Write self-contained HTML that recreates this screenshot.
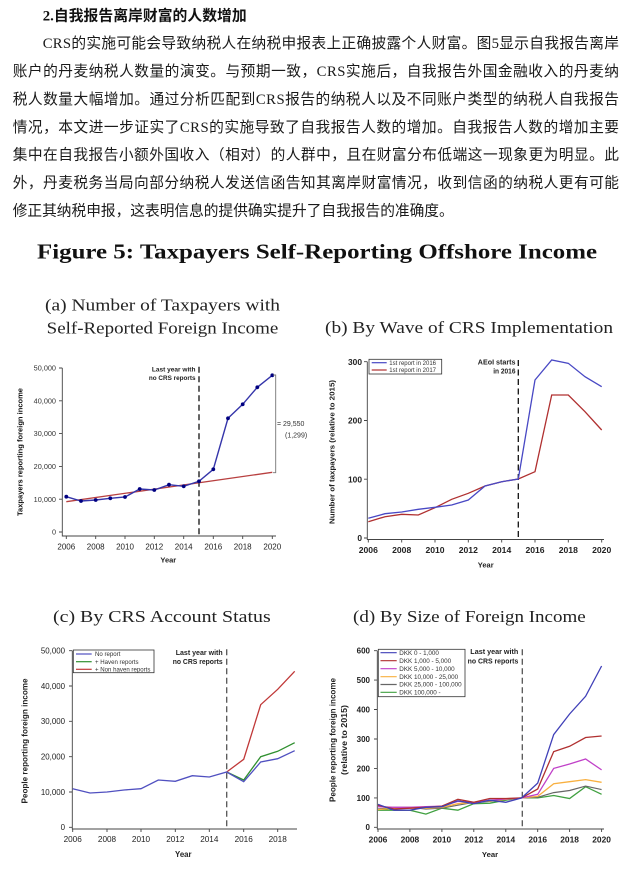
<!DOCTYPE html>
<html>
<head>
<meta charset="utf-8">
<style>
  html,body{margin:0;padding:0;background:#fff;}
  svg{display:block;}
  .cn{font-family:"Liberation Serif","Noto Sans CJK SC",sans-serif;font-size:14.7px;fill:#1a1a1a;}
  .cnh{font-family:"Liberation Serif","Noto Sans CJK SC",sans-serif;font-size:14.8px;font-weight:bold;fill:#111;}
  .ttl{font-family:"Liberation Serif",serif;font-weight:bold;font-size:21px;fill:#111;}
  .sub{font-family:"Liberation Serif",serif;font-size:17px;fill:#222;}
  .s{font-family:"Liberation Sans",sans-serif;}
  .ax{stroke:#444;stroke-width:0.9;fill:none;}
</style>
</head>
<body>
<svg width="630" height="871" viewBox="0 0 630 871" xmlns="http://www.w3.org/2000/svg">
<rect width="630" height="871" fill="#fff"/>

<!-- Chinese text -->
<text class="cnh" x="42.7" y="20.7" textLength="204" lengthAdjust="spacing">2.自我报告离岸财富的人数增加</text>
<text class="cn" x="42.7" y="47.9" textLength="576.3" lengthAdjust="spacing">CRS的实施可能会导致纳税人在纳税申报表上正确披露个人财富。图5显示自我报告离岸</text>
<text class="cn" x="12.7" y="75.85" textLength="606.3" lengthAdjust="spacing">账户的丹麦纳税人数量的演变。与预期一致，CRS实施后，自我报告外国金融收入的丹麦纳</text>
<text class="cn" x="12.7" y="103.8" textLength="606.3" lengthAdjust="spacing">税人数量大幅增加。通过分析匹配到CRS报告的纳税人以及不同账户类型的纳税人自我报告</text>
<text class="cn" x="12.7" y="131.75" textLength="606.3" lengthAdjust="spacing">情况，本文进一步证实了CRS的实施导致了自我报告人数的增加。自我报告人数的增加主要</text>
<text class="cn" x="12.7" y="159.7" textLength="606.3" lengthAdjust="spacing">集中在自我报告小额外国收入（相对）的人群中，且在财富分布低端这一现象更为明显。此</text>
<text class="cn" x="12.7" y="187.65" textLength="606.3" lengthAdjust="spacing">外，丹麦税务当局向部分纳税人发送信函告知其离岸财富情况，收到信函的纳税人更有可能</text>
<text class="cn" x="12.7" y="215.6" textLength="441" lengthAdjust="spacing">修正其纳税申报，这表明信息的提供确实提升了自我报告的准确度。</text>

<!-- Figure title -->
<text class="ttl" x="37" y="258.7" textLength="560" lengthAdjust="spacingAndGlyphs">Figure 5: Taxpayers Self-Reporting Offshore Income</text>

<!-- Subtitles -->
<text class="sub" x="45" y="310.5" textLength="235" lengthAdjust="spacingAndGlyphs">(a) Number of Taxpayers with</text>
<text class="sub" x="46.7" y="333.5" textLength="231.6" lengthAdjust="spacingAndGlyphs">Self-Reported Foreign Income</text>
<text class="sub" x="325" y="333" textLength="288" lengthAdjust="spacingAndGlyphs">(b) By Wave of CRS Implementation</text>
<text class="sub" x="53" y="622" textLength="217.7" lengthAdjust="spacingAndGlyphs">(c) By CRS Account Status</text>
<text class="sub" x="353" y="622" textLength="232.7" lengthAdjust="spacingAndGlyphs">(d) By Size of Foreign Income</text>

<!-- ================= Chart A ================= -->
<g>
  <path class="ax" d="M62.3,368 V536 H276"/>
  <path class="ax" d="M59,532 H62.3 M59,499.2 H62.3 M59,466.4 H62.3 M59,433.6 H62.3 M59,400.8 H62.3 M59,368 H62.3"/>
  <path class="ax" d="M66.3,536 V539 M95.7,536 V539 M125,536 V539 M154.3,536 V539 M183.7,536 V539 M213.3,536 V539 M242.7,536 V539 M272.3,536 V539"/>
  <g class="s" font-size="7.3" fill="#333" text-anchor="end">
    <text x="56" y="370.6">50,000</text>
    <text x="56" y="403.4">40,000</text>
    <text x="56" y="436.2">30,000</text>
    <text x="56" y="469">20,000</text>
    <text x="56" y="501.8">10,000</text>
    <text x="56" y="534.6">0</text>
  </g>
  <g class="s" font-size="8" fill="#222" text-anchor="middle">
    <text x="66.3" y="549.6">2006</text>
    <text x="95.7" y="549.6">2008</text>
    <text x="125" y="549.6">2010</text>
    <text x="154.3" y="549.6">2012</text>
    <text x="183.7" y="549.6">2014</text>
    <text x="213.3" y="549.6">2016</text>
    <text x="242.7" y="549.6">2018</text>
    <text x="272.3" y="549.6">2020</text>
  </g>
  <text class="s" x="168.3" y="562.6" font-size="7.5" font-weight="bold" fill="#222" text-anchor="middle">Year</text>
  <text class="s" transform="translate(22.6,452) rotate(-90)" font-size="7.5" font-weight="bold" fill="#111" text-anchor="middle" textLength="128" lengthAdjust="spacingAndGlyphs">Taxpayers reporting foreign income</text>
  <line x1="199" y1="366.7" x2="199" y2="537" stroke="#111" stroke-width="1.3" stroke-dasharray="6,3.5"/>
  <g class="s" font-size="6.6" font-weight="bold" fill="#222" text-anchor="end">
    <text x="195.5" y="371.4" textLength="43.6" lengthAdjust="spacingAndGlyphs">Last year with</text>
    <text x="195.5" y="380.1" textLength="46.6" lengthAdjust="spacingAndGlyphs">no CRS reports</text>
  </g>
  <line x1="66.3" y1="501.7" x2="272.3" y2="472.3" stroke="#b84040" stroke-width="1.3"/>
  <polyline fill="none" stroke="#3535aa" stroke-width="1.4" points="66.3,496.7 81,501 95.7,500 110.3,498.3 125,497 139.7,489 154.3,490 169,484.7 183.7,486.3 199,481.3 213.3,469.3 228,418.3 242.7,404.3 257.3,387.3 272.3,375.3"/>
  <g fill="#000080">
    <circle cx="66.3" cy="496.7" r="1.9"/><circle cx="81" cy="501" r="1.9"/><circle cx="95.7" cy="500" r="1.9"/>
    <circle cx="110.3" cy="498.3" r="1.9"/><circle cx="125" cy="497" r="1.9"/><circle cx="139.7" cy="489" r="1.9"/>
    <circle cx="154.3" cy="490" r="1.9"/><circle cx="169" cy="484.7" r="1.9"/><circle cx="183.7" cy="486.3" r="1.9"/>
    <circle cx="199" cy="481.3" r="1.9"/><circle cx="213.3" cy="469.3" r="1.9"/><circle cx="228" cy="418.3" r="1.9"/>
    <circle cx="242.7" cy="404.3" r="1.9"/><circle cx="257.3" cy="387.3" r="1.9"/><circle cx="272.3" cy="375.3" r="1.9"/>
  </g>
  <path d="M273,375 H275.7 V472.7 H273" fill="none" stroke="#777" stroke-width="0.9"/>
  <g class="s" font-size="7" fill="#333">
    <text x="277" y="426">= 29,550</text>
    <text x="285" y="437.6">(1,299)</text>
  </g>
</g>

<!-- ================= Chart B ================= -->
<g>
  <path class="ax" d="M367.3,361.7 V539.5 H604"/>
  <path class="ax" d="M364,538 H367.3 M364,479.2 H367.3 M364,420.5 H367.3 M364,361.7 H367.3"/>
  <path class="ax" d="M368.3,539.5 V542.5 M401.7,539.5 V542.5 M435,539.5 V542.5 M468.3,539.5 V542.5 M501.7,539.5 V542.5 M535,539.5 V542.5 M568.3,539.5 V542.5 M601.7,539.5 V542.5"/>
  <g class="s" font-size="8.4" font-weight="bold" fill="#222" text-anchor="end">
    <text x="362" y="364.8">300</text>
    <text x="362" y="423.6">200</text>
    <text x="362" y="482.3">100</text>
    <text x="362" y="541.1">0</text>
  </g>
  <g class="s" font-size="8.6" font-weight="bold" fill="#222" text-anchor="middle">
    <text x="368.3" y="553.2">2006</text>
    <text x="401.7" y="553.2">2008</text>
    <text x="435" y="553.2">2010</text>
    <text x="468.3" y="553.2">2012</text>
    <text x="501.7" y="553.2">2014</text>
    <text x="535" y="553.2">2016</text>
    <text x="568.3" y="553.2">2018</text>
    <text x="601.7" y="553.2">2020</text>
  </g>
  <text class="s" x="485.7" y="567.6" font-size="7.5" font-weight="bold" fill="#222" text-anchor="middle">Year</text>
  <text class="s" transform="translate(334.3,452) rotate(-90)" font-size="7.5" font-weight="bold" fill="#222" text-anchor="middle" textLength="144" lengthAdjust="spacingAndGlyphs">Number of taxpayers (relative to 2015)</text>
  <line x1="518.3" y1="360" x2="518.3" y2="539" stroke="#111" stroke-width="1.3" stroke-dasharray="6,3.5"/>
  <g class="s" font-size="7" font-weight="bold" fill="#222" text-anchor="end">
    <text x="515.5" y="364.5" textLength="37.7" lengthAdjust="spacingAndGlyphs">AEoI starts</text>
    <text x="515.5" y="373.5" textLength="22.3" lengthAdjust="spacingAndGlyphs">in 2016</text>
  </g>
  <polyline fill="none" stroke="#b03030" stroke-width="1.3" points="368.3,521.7 385,516.7 401.7,514.3 418.3,515 435,507.7 451.7,499.3 468.3,493.3 485,486 501.7,481.7 518.3,479 535,471.7 551.7,395 568.3,395 585,411.7 601.7,430"/>
  <polyline fill="none" stroke="#4848c4" stroke-width="1.3" points="368.3,518.3 385,513.7 401.7,512 418.3,509.3 435,507.3 451.7,505 468.3,500 485,486 501.7,481.7 518.3,479 535,380 551.7,360 568.3,363.3 585,376.7 601.7,386.7"/>
  <rect x="369" y="359.3" width="72.7" height="14.7" fill="#fff" stroke="#333" stroke-width="0.8"/>
  <line x1="371.7" y1="362.7" x2="386.7" y2="362.7" stroke="#4848c4" stroke-width="1.2"/>
  <line x1="371.7" y1="370" x2="386.7" y2="370" stroke="#b03030" stroke-width="1.2"/>
  <g class="s" font-size="6" fill="#333">
    <text x="389.3" y="364.8">1st report in 2016</text>
    <text x="389.3" y="372.1">1st report in 2017</text>
  </g>
</g>

<!-- ================= Chart C ================= -->
<g>
  <path class="ax" d="M72.3,650.7 V829 H297"/>
  <path class="ax" d="M69,827.3 H72.3 M69,792 H72.3 M69,756.7 H72.3 M69,721.3 H72.3 M69,686 H72.3 M69,650.7 H72.3"/>
  <path class="ax" d="M72.7,829 V832 M107,829 V832 M141,829 V832 M175.3,829 V832 M209.3,829 V832 M243.7,829 V832 M277.7,829 V832"/>
  <g class="s" font-size="7.9" fill="#222" text-anchor="end">
    <text x="65" y="653.5">50,000</text>
    <text x="65" y="688.8">40,000</text>
    <text x="65" y="724.1">30,000</text>
    <text x="65" y="759.5">20,000</text>
    <text x="65" y="794.8">10,000</text>
    <text x="65" y="830.1">0</text>
  </g>
  <g class="s" font-size="8.2" fill="#222" text-anchor="middle">
    <text x="72.7" y="842.2">2006</text>
    <text x="107" y="842.2">2008</text>
    <text x="141" y="842.2">2010</text>
    <text x="175.3" y="842.2">2012</text>
    <text x="209.3" y="842.2">2014</text>
    <text x="243.7" y="842.2">2016</text>
    <text x="277.7" y="842.2">2018</text>
  </g>
  <text class="s" x="183.3" y="857" font-size="7.8" font-weight="bold" fill="#222" text-anchor="middle">Year</text>
  <text class="s" transform="translate(27.6,741) rotate(-90)" font-size="7.8" font-weight="bold" fill="#222" text-anchor="middle" textLength="125" lengthAdjust="spacingAndGlyphs">People reporting foreign income</text>
  <line x1="226.7" y1="649.3" x2="226.7" y2="828" stroke="#555" stroke-width="1.3" stroke-dasharray="6,3.5"/>
  <g class="s" font-size="7.1" font-weight="bold" fill="#222" text-anchor="end">
    <text x="222.7" y="655.2" textLength="47" lengthAdjust="spacingAndGlyphs">Last year with</text>
    <text x="222.7" y="664.2" textLength="50" lengthAdjust="spacingAndGlyphs">no CRS reports</text>
  </g>
  <polyline fill="none" stroke="#c03838" stroke-width="1.3" points="226.7,772 243.7,759.3 260.7,704.7 277.7,689.3 294.7,671.3"/>
  <polyline fill="none" stroke="#309030" stroke-width="1.3" points="226.7,772 243.7,780 260.7,756.7 277.7,751.3 294.7,742.7"/>
  <polyline fill="none" stroke="#5050c0" stroke-width="1.3" points="72.7,788.7 90,793 107,792 124,790 141,788.7 158.3,780 175.3,781.3 192.3,775.7 209.3,777 226.7,772 243.7,781.7 260.7,762 277.7,758.7 294.7,750.7"/>
  <rect x="73.3" y="650" width="80.7" height="22.7" fill="#fff" stroke="#333" stroke-width="0.8"/>
  <line x1="76" y1="654" x2="91.7" y2="654" stroke="#5050c0" stroke-width="1.2"/>
  <line x1="76" y1="661.7" x2="91.7" y2="661.7" stroke="#309030" stroke-width="1.2"/>
  <line x1="76" y1="669.3" x2="91.7" y2="669.3" stroke="#c03838" stroke-width="1.2"/>
  <g class="s" font-size="6.1" fill="#333">
    <text x="95" y="656.2">No report</text>
    <text x="95" y="663.9">+ Haven reports</text>
    <text x="95" y="671.5">+ Non haven reports</text>
  </g>
</g>

<!-- ================= Chart D ================= -->
<g>
  <path class="ax" d="M377.3,650.7 V829 H604"/>
  <path class="ax" d="M374,827.3 H377.3 M374,797.9 H377.3 M374,768.4 H377.3 M374,739 H377.3 M374,709.5 H377.3 M374,680.1 H377.3 M374,650.7 H377.3"/>
  <path class="ax" d="M378,829 V832 M409.9,829 V832 M441.9,829 V832 M473.8,829 V832 M505.8,829 V832 M537.7,829 V832 M569.6,829 V832 M601.6,829 V832"/>
  <g class="s" font-size="8" font-weight="bold" fill="#222" text-anchor="end">
    <text x="370" y="653.6">600</text>
    <text x="370" y="683">500</text>
    <text x="370" y="712.4">400</text>
    <text x="370" y="741.9">300</text>
    <text x="370" y="771.3">200</text>
    <text x="370" y="800.8">100</text>
    <text x="370" y="830.2">0</text>
  </g>
  <g class="s" font-size="8.4" font-weight="bold" fill="#222" text-anchor="middle">
    <text x="378" y="842.3">2006</text>
    <text x="409.9" y="842.3">2008</text>
    <text x="441.9" y="842.3">2010</text>
    <text x="473.8" y="842.3">2012</text>
    <text x="505.8" y="842.3">2014</text>
    <text x="537.7" y="842.3">2016</text>
    <text x="569.6" y="842.3">2018</text>
    <text x="601.6" y="842.3">2020</text>
  </g>
  <text class="s" x="490" y="857" font-size="7.7" font-weight="bold" fill="#222" text-anchor="middle">Year</text>
  <text class="s" transform="translate(335.6,740) rotate(-90)" font-size="7.8" font-weight="bold" fill="#222" text-anchor="middle" textLength="124" lengthAdjust="spacingAndGlyphs">People reporting foreign income</text>
  <text class="s" transform="translate(346.9,740) rotate(-90)" font-size="7.8" font-weight="bold" fill="#222" text-anchor="middle" textLength="70" lengthAdjust="spacingAndGlyphs">(relative to 2015)</text>
  <line x1="522.3" y1="649.3" x2="522.3" y2="828" stroke="#555" stroke-width="1.3" stroke-dasharray="6,3.5"/>
  <g class="s" font-size="7.2" font-weight="bold" fill="#222" text-anchor="end">
    <text x="518.3" y="654.2" textLength="48" lengthAdjust="spacingAndGlyphs">Last year with</text>
    <text x="518.3" y="663.5" textLength="50.7" lengthAdjust="spacingAndGlyphs">no CRS reports</text>
  </g>
  <polyline fill="none" stroke="#40a040" stroke-width="1.3" points="378,810.2 394,810.2 409.9,810.2 425.9,814.1 441.9,808.2 457.9,810.2 473.8,803.7 489.8,803.2 505.8,800.2 521.7,797.9 537.7,797.9 553.7,795.5 569.6,798.5 585.6,786.7 601.6,794.3"/>
  <polyline fill="none" stroke="#666" stroke-width="1.2" points="378,809 394,807.3 409.9,807.3 425.9,809 441.9,808.2 457.9,805.2 473.8,802.3 489.8,801.4 505.8,799.3 521.7,797.9 537.7,797.3 553.7,792.6 569.6,790.5 585.6,786.1 601.6,789.6"/>
  <polyline fill="none" stroke="#f8b040" stroke-width="1.3" points="378,809.6 394,808.2 409.9,808.2 425.9,808.2 441.9,807.3 457.9,803.7 473.8,802.3 489.8,800.8 505.8,799.3 521.7,797.9 537.7,796.4 553.7,783.7 569.6,781.7 585.6,779.6 601.6,782.3"/>
  <polyline fill="none" stroke="#c040c8" stroke-width="1.3" points="378,806.7 394,807.3 409.9,807.3 425.9,806.7 441.9,806.1 457.9,801.4 473.8,802.3 489.8,800.2 505.8,799 521.7,797.9 537.7,794.3 553.7,768.4 569.6,764 585.6,759 601.6,769.9"/>
  <polyline fill="none" stroke="#b03030" stroke-width="1.3" points="378,805.2 394,809 409.9,808.2 425.9,807.3 441.9,806.1 457.9,799.3 473.8,802.3 489.8,798.5 505.8,798.5 521.7,797.9 537.7,789 553.7,751.6 569.6,746.3 585.6,737.5 601.6,736"/>
  <polyline fill="none" stroke="#4040b8" stroke-width="1.3" points="378,804.3 394,810.2 409.9,810.2 425.9,807.3 441.9,806.7 457.9,800.8 473.8,803.7 489.8,800.2 505.8,802.3 521.7,797.9 537.7,783.1 553.7,734.6 569.6,714 585.6,696.3 601.6,666"/>
  <rect x="378.3" y="649.3" width="86.7" height="47.4" fill="#fff" stroke="#333" stroke-width="0.8"/>
  <line x1="380.5" y1="652.7" x2="396.7" y2="652.7" stroke="#4040b8" stroke-width="1.2"/>
  <line x1="380.5" y1="660.7" x2="396.7" y2="660.7" stroke="#b03030" stroke-width="1.2"/>
  <line x1="380.5" y1="668.7" x2="396.7" y2="668.7" stroke="#c040c8" stroke-width="1.2"/>
  <line x1="380.5" y1="676.7" x2="396.7" y2="676.7" stroke="#f8b040" stroke-width="1.2"/>
  <line x1="380.5" y1="684.5" x2="396.7" y2="684.5" stroke="#666" stroke-width="1.2"/>
  <line x1="380.5" y1="692.3" x2="396.7" y2="692.3" stroke="#40a040" stroke-width="1.2"/>
  <g class="s" font-size="6.3" fill="#333">
    <text x="399.3" y="654.9">DKK 0 - 1,000</text>
    <text x="399.3" y="662.9">DKK 1,000 - 5,000</text>
    <text x="399.3" y="670.9">DKK 5,000 - 10,000</text>
    <text x="399.3" y="678.9">DKK 10,000 - 25,000</text>
    <text x="399.3" y="686.7">DKK 25,000 - 100,000</text>
    <text x="399.3" y="694.5">DKK 100,000 -</text>
  </g>
</g>
</svg>
</body>
</html>
